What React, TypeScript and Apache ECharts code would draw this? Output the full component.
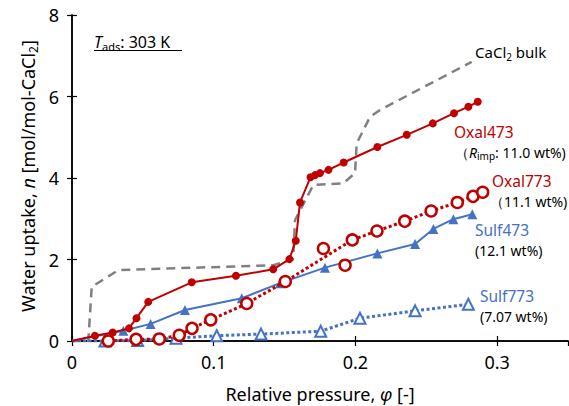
import React, { useEffect, useRef } from 'react';
import * as echarts from 'echarts';

const oxal473X = [0, 0.0162, 0.0287, 0.0402, 0.0455, 0.0538, 0.0845, 0.1157, 0.142, 0.1534, 0.1579, 0.1609, 0.1683, 0.1715, 0.175, 0.181, 0.1917, 0.2155, 0.2362, 0.2546, 0.2696, 0.2797, 0.2863];
const oxal473Y = [0, 0.13, 0.21, 0.31, 0.56, 0.96, 1.44, 1.6, 1.76, 2.01, 2.46, 3.4, 4.02, 4.07, 4.12, 4.2, 4.38, 4.76, 5.06, 5.34, 5.59, 5.75, 5.87];

const oxal773X = [0.0256, 0.0452, 0.0616, 0.0757, 0.0847, 0.0979, 0.1233, 0.1505, 0.1978, 0.2152, 0.2348, 0.2534, 0.2719, 0.283, 0.2898];
const oxal773Y = [0.0, 0.04, 0.05, 0.14, 0.31, 0.52, 0.92, 1.46, 2.48, 2.7, 2.94, 3.19, 3.4, 3.55, 3.65];
const oxal773OffX = [0.1774, 0.1927];
const oxal773OffY = [2.27, 1.86];

const sulf473X = [0, 0.0362, 0.0555, 0.0797, 0.1198, 0.1468, 0.1785, 0.2155, 0.2421, 0.255, 0.2691, 0.2825];
const sulf473Y = [0, 0.25, 0.42, 0.76, 1.05, 1.42, 1.8, 2.15, 2.38, 2.75, 2.99, 3.11];

const sulf773X = [0, 0.0233, 0.0463, 0.0734, 0.1021, 0.1334, 0.1755, 0.2032, 0.2421, 0.2797];
const sulf773Y = [0, 0.0, 0.01, 0.07, 0.13, 0.17, 0.24, 0.56, 0.74, 0.9];

const cacl2X = [0, 0.0115, 0.0139, 0.0327, 0.142, 0.156, 0.1574, 0.1703, 0.1915, 0.1997, 0.2009, 0.2103, 0.2174, 0.282];
const cacl2Y = [0, 0, 1.33, 1.74, 1.86, 2.0, 2.97, 3.83, 3.87, 4.12, 4.85, 5.5, 5.67, 6.85];

const xTicks = [0, 0.1, 0.2, 0.3];
const yTicks = [0, 2, 4, 6, 8];

const RED = '#C00000';
const BLUE = '#4472C4';
const GRAY = '#808080';
const FONT = 'Noto Sans';

const pairs = (xs: number[], ys: number[], hideFirstAtOrigin = false) =>
  xs.map((x, i) =>
    hideFirstAtOrigin && i === 0 && x === 0 ? { value: [x, ys[i]], symbol: 'none' } : [x, ys[i]]
  );

export default function App() {
  const ref = useRef<HTMLDivElement>(null);
  useEffect(() => {
    const chart = echarts.init(ref.current!, null, { renderer: 'svg' });
    const axisLine = { show: true, lineStyle: { color: '#000', width: 1.5 } };
    const axisTick = { show: true, inside: true, length: 5, lineStyle: { color: '#000', width: 1.2 } };
    const label = (x: number, y: number, text: string, color: string, size = 15) => ({
      type: 'text',
      x,
      y,
      z: 100,
      style: {
        text,
        fill: color,
        fontSize: size,
        fontFamily: FONT,
        align: 'left',
        verticalAlign: 'middle',
      },
    });
    chart.setOption({
      animation: false,
      backgroundColor: '#fff',
      grid: { left: 72, right: 1, top: 15, bottom: 65, containLabel: false },
      xAxis: [
        {
          type: 'value',
          min: 0,
          max: 0.35,
          interval: 0.1,
          position: 'bottom',
          axisLine,
          axisTick,
          splitLine: { show: false },
          axisLabel: {
            fontSize: 18,
            fontFamily: FONT,
            color: '#000',
            margin: 12,
            showMaxLabel: false,
            formatter: (v: number) => {
              const t = xTicks.find((k) => Math.abs(k - v) < 1e-6);
              return t === undefined ? '' : t === 0 ? '0' : t.toFixed(1);
            },
          },
        },
        {
          type: 'value',
          min: 0,
          max: 0.35,
          interval: 0.1,
          position: 'top',
          axisLine,
          axisTick,
          splitLine: { show: false },
          axisLabel: { show: false },
        },
      ],
      yAxis: [
        {
          type: 'value',
          min: 0,
          max: 8,
          interval: 2,
          position: 'left',
          axisLine,
          axisTick,
          splitLine: { show: false },
          axisLabel: {
            fontSize: 18,
            fontFamily: FONT,
            color: '#000',
            margin: 13,
            formatter: (v: number) => {
              const t = yTicks.find((k) => Math.abs(k - v) < 1e-6);
              return t === undefined ? '' : String(t);
            },
          },
        },
        {
          type: 'value',
          min: 0,
          max: 8,
          interval: 2,
          position: 'right',
          axisLine,
          axisTick,
          splitLine: { show: false },
          axisLabel: { show: false },
        },
      ],
      series: [
        {
          name: 'CaCl2 bulk',
          type: 'line',
          data: pairs(cacl2X, cacl2Y),
          symbol: 'none',
          lineStyle: { color: GRAY, width: 2.5, type: [9, 6] },
          z: 1,
        },
        {
          name: 'Sulf773',
          type: 'line',
          data: pairs(sulf773X, sulf773Y, true),
          symbol: 'triangle',
          symbolSize: 11,
          showAllSymbol: true,
          itemStyle: { color: '#fff', borderColor: BLUE, borderWidth: 2 },
          lineStyle: { color: BLUE, width: 3, type: [3, 2.5] },
          z: 2,
        },
        {
          name: 'Sulf473',
          type: 'line',
          data: pairs(sulf473X, sulf473Y, true),
          symbol: 'triangle',
          symbolSize: 10,
          showAllSymbol: true,
          itemStyle: { color: BLUE },
          lineStyle: { color: BLUE, width: 2 },
          z: 3,
        },
        {
          name: 'Oxal773',
          type: 'line',
          data: pairs(oxal773X, oxal773Y),
          symbol: 'circle',
          symbolSize: 11,
          showAllSymbol: true,
          itemStyle: { color: '#fff', borderColor: RED, borderWidth: 2.5 },
          lineStyle: { color: RED, width: 3, type: [3, 2.5] },
          z: 4,
        },
        {
          name: 'Oxal773 extra',
          type: 'scatter',
          data: pairs(oxal773OffX, oxal773OffY),
          symbol: 'circle',
          symbolSize: 11,
          itemStyle: { color: '#fff', borderColor: RED, borderWidth: 2.5, opacity: 1 },
          z: 4,
        },
        {
          name: 'Oxal473',
          type: 'line',
          data: pairs(oxal473X, oxal473Y, true),
          symbol: 'circle',
          symbolSize: 8,
          showAllSymbol: true,
          itemStyle: { color: RED },
          lineStyle: { color: RED, width: 2 },
          z: 5,
        },
      ],
      graphic: [
        {
          type: 'text',
          x: 94,
          y: 42,
          z: 100,
          style: {
            text: '{i|T}{s|ads}{n|: 303 K}',
            fill: '#000',
            align: 'left',
            verticalAlign: 'middle',
            rich: {
              n: { fontSize: 16, fontFamily: FONT, lineHeight: 20 },
              i: { fontSize: 16, fontFamily: FONT, fontStyle: 'italic', lineHeight: 20 },
              s: { fontSize: 11, fontFamily: FONT, lineHeight: 12, verticalAlign: 'bottom' },
            },
          },
        },
        {
          type: 'line',
          z: 100,
          shape: { x1: 94, y1: 50.5, x2: 182, y2: 50.5 },
          style: { stroke: '#000', lineWidth: 1 },
        },
        {
          type: 'text',
          x: 475,
          y: 52,
          z: 100,
          style: {
            text: '{n|CaCl}{s|2}{n| bulk}',
            fill: '#000',
            align: 'left',
            verticalAlign: 'middle',
            rich: {
              n: { fontSize: 15, fontFamily: FONT, lineHeight: 20 },
              s: { fontSize: 10, fontFamily: FONT, lineHeight: 12, verticalAlign: 'bottom' },
            },
          },
        },
        label(454, 132, 'Oxal473', RED, 15.5),
        {
          type: 'text',
          x: 455,
          y: 152,
          z: 100,
          style: {
            text: '{n|（}{i|R}{s|imp}{n|: 11.0 wt%)}',
            fill: '#000',
            align: 'left',
            verticalAlign: 'middle',
            rich: {
              n: { fontSize: 14, fontFamily: FONT, lineHeight: 17 },
              i: { fontSize: 14, fontFamily: FONT, fontStyle: 'italic', lineHeight: 17 },
              s: { fontSize: 10, fontFamily: FONT, lineHeight: 11, verticalAlign: 'bottom' },
            },
          },
        },
        label(492, 181, 'Oxal773', RED, 15.5),
        label(490, 201, '（11.1 wt%)', '#000', 14),
        label(475, 230, 'Sulf473', BLUE, 15.5),
        label(475, 250, '(12.1 wt%)', '#000', 14),
        label(480, 296, 'Sulf773', BLUE, 15.5),
        label(480, 316, '(7.07 wt%)', '#000', 14),
        {
          type: 'text',
          x: 320,
          y: 394,
          z: 100,
          style: {
            text: '{n|Relative pressure, }{i|φ}{n| [-]}',
            fill: '#000',
            align: 'center',
            verticalAlign: 'middle',
            rich: {
              n: { fontSize: 18, fontFamily: FONT, lineHeight: 22 },
              i: { fontSize: 18, fontFamily: FONT, fontStyle: 'italic', lineHeight: 22 },
            },
          },
        },
        {
          type: 'text',
          x: 28,
          y: 176,
          z: 100,
          rotation: Math.PI / 2,
          style: {
            text: '{n|Water uptake, }{i|n}{n| [mol/mol-CaCl}{s|2}{n|]}',
            fill: '#000',
            align: 'center',
            verticalAlign: 'middle',
            rich: {
              n: { fontSize: 18, fontFamily: FONT, lineHeight: 22 },
              i: { fontSize: 18, fontFamily: FONT, fontStyle: 'italic', lineHeight: 22 },
              s: { fontSize: 12, fontFamily: FONT, lineHeight: 13, verticalAlign: 'bottom' },
            },
          },
        },
      ],
    });
    return () => chart.dispose();
  }, []);
  return (
    <div
      ref={ref}
      style={{ position: 'fixed', left: 0, top: 0, width: 569, height: 406, background: '#fff' }}
    />
  );
}
